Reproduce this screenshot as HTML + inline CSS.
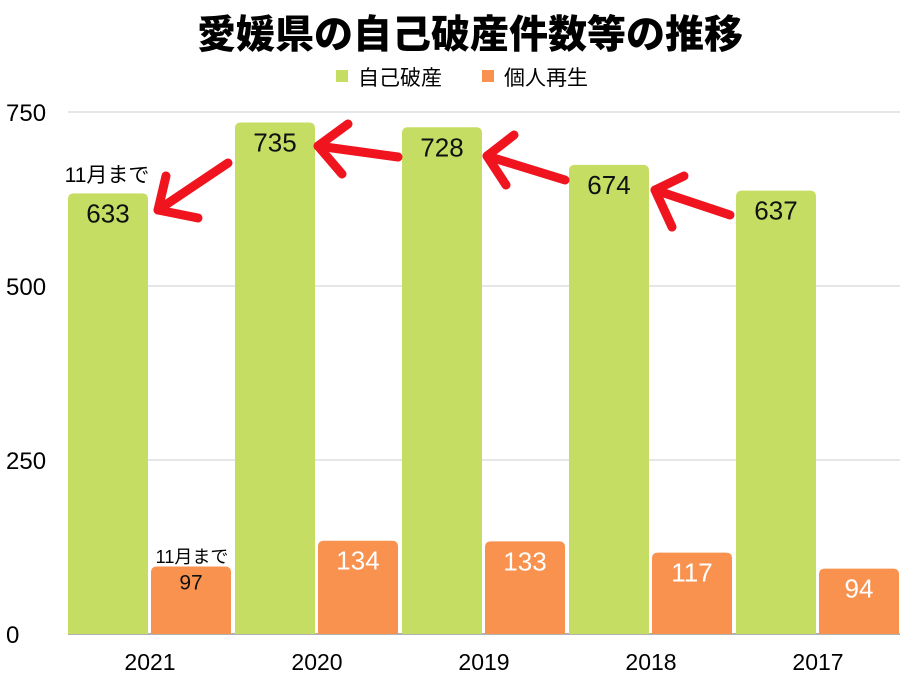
<!DOCTYPE html>
<html><head><meta charset="utf-8"><style>
body{margin:0;background:#fff;width:900px;height:675px;overflow:hidden;font-family:"Liberation Sans","Noto Sans CJK JP",sans-serif}
</style></head><body>
<svg id="c" width="900" height="675" style="font-family:'Liberation Sans','Noto Sans CJK JP',sans-serif">
<text x="470" y="48" text-anchor="middle" font-size="39" font-weight="900">愛媛県の自己破産件数等の推移</text>
<g>
<rect x="336" y="70" width="12" height="12" fill="#c5dd63"/>
<text x="358" y="85" font-size="21">自己破産</text>
<rect x="482" y="70" width="12" height="12" fill="#f8924e"/>
<text x="504" y="85" font-size="21">個人再生</text>
</g>
<g id="grid"></g><g id="bars"></g><g id="arrows" stroke="#f0141e" stroke-width="9" stroke-linecap="round" stroke-linejoin="round" fill="none">
<polyline points="228,163 158,210"/><polyline points="166,176 158,210 198,218"/>
<polyline points="398,157 318,146"/><polyline points="348,124 318,146 342,174"/>
<polyline points="565,180 487,156"/><polyline points="514,135 487,156 506,185"/>
<polyline points="730,215 655,190"/><polyline points="684,176 655,190 672,227"/>
</g>
<text x="107" y="182" text-anchor="middle" font-size="21">11月まで</text>
<text x="192" y="563" text-anchor="middle" font-size="18">11月まで</text>
</svg>
<script>
const categories=["2021","2020","2019","2018","2017"];
const bankruptcy=[633,735,728,674,637];
const rehab=[97,134,133,117,94];
const ticks=[0,250,500,750];
const NS="http://www.w3.org/2000/svg";
const y0=634,y1=112,x0=67,gw=167;
const y=v=>y0-(v/750)*(y0-y1);
function mk(t,a,p){const e=document.createElementNS(NS,t);for(const k in a)e.setAttribute(k,a[k]);p.appendChild(e);return e;}
const grid=document.getElementById('grid'),bars=document.getElementById('bars');
ticks.forEach(t=>{
const l=mk('line',{x1:68,x2:900,y1:y(t),y2:y(t),stroke:t==0?'#999':'#ddd','stroke-width':1.5},grid);


const tx=mk('text',{x:6,y:y(t)+9,'font-size':24},grid);tx.textContent=t;


});
categories.forEach((c,i)=>{
const gx=x0+i*gw;
function bar(v,x,col,name,labCol,fs){
const r=mk('path',{d:`M${x},${y0}V${y(v)+6}Q${x},${y(v)} ${x+6},${y(v)}H${x+74}Q${x+80},${y(v)} ${x+80},${y(v)+6}V${y0}Z`,fill:col},bars);


const t=mk('text',{x:x+40,y:y(v)+29,'text-anchor':'middle','font-size':fs,fill:labCol},bars);t.textContent=v;


}
bar(bankruptcy[i],gx+1,'#c5dd63','bankruptcy','#111',26);
bar(rehab[i],gx+84,'#f8924e','rehab',i==0?'#111':'#fff',i==0?21:26);
if(i==0){bars.lastChild.setAttribute('y',y(rehab[i])+23);}
const lab=mk('text',{x:gx+83,y:670,'text-anchor':'middle','font-size':23},bars);lab.textContent=c;


});
</script>
</body></html>
